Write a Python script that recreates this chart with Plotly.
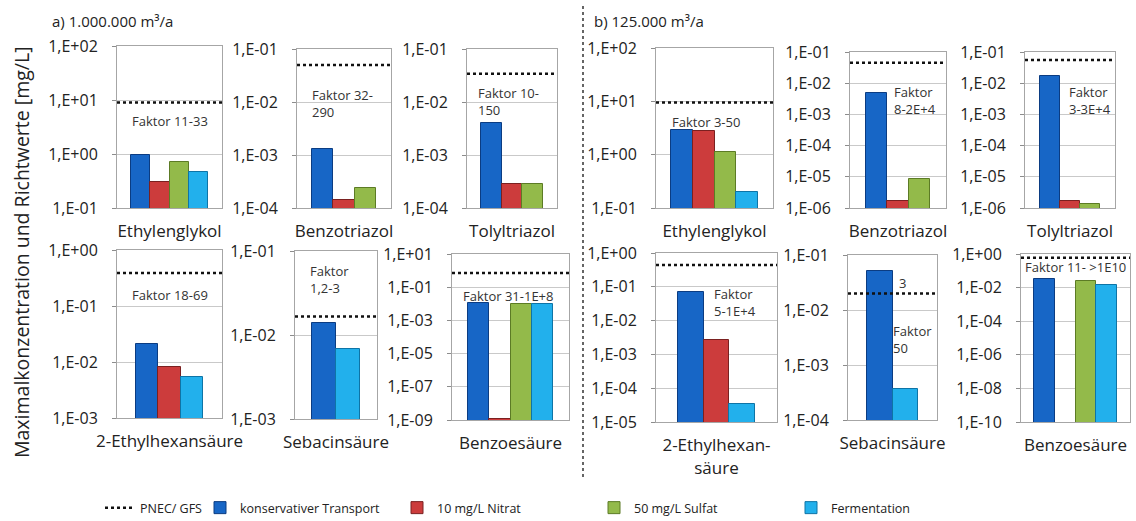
import plotly.graph_objects as go

W, H = 1136, 521

SERIES = ["konservativer Transport", "10 mg/L Nitrat", "50 mg/L Sulfat", "Fermentation"]
COLORS = ["#1766c6", "#cc3c3c", "#93ba4a", "#22b0ec"]
EDGES = ["#0b3c82", "#7a2020", "#5c7b25", "#0e74a6"]

# scenario a) 1.000.000 m3/a and b) 125.000 m3/a, one row per compound, columns follow SERIES
A_LABELS = ["Ethylenglykol", "Benzotriazol", "Tolyltriazol", "2-Ethylhexansäure", "Sebacinsäure", "Benzoesäure"]
B_LABELS = ["Ethylenglykol", "Benzotriazol", "Tolyltriazol", "2-Ethylhexan-<br>säure", "Sebacinsäure", "Benzoesäure"]

A_VALUES = [
    [0.95, 0.30, 0.71, 0.46],
    [1.3e-3, 1.4e-4, 2.4e-4, None],
    [4.0e-3, 2.8e-4, 2.8e-4, None],
    [2.1e-2, 8.0e-3, None, 5.5e-3],
    [1.4e-2, None, None, 6.8e-3],
    [1.1e-2, 1.2e-9, 1.0e-2, 1.0e-2],
]
B_VALUES = [
    [2.9, 2.8, 1.1, 0.2],
    [4.9e-3, 1.7e-6, 8.5e-6, None],
    [1.7e-2, 1.7e-6, 1.35e-6, None],
    [7.1e-2, 2.7e-3, None, 3.4e-5],
    [5.1e-2, None, None, 3.7e-4],
    [3.2e-2, 0, 2.5e-2, 1.4e-2],  # Nitrat 0: not detectable, slot stays empty
]
A_PNEC = [9.0, 0.05, 0.034, 0.39, 0.0166, 0.72]
B_PNEC = [9.5, 0.045, 0.055, 0.44, 0.02, 0.6]

A_FAKTOR = ["Faktor 11-33", "Faktor 32-<br>290", "Faktor 10-<br>150",
            "Faktor 18-69", "Faktor<br>1,2-3", "Faktor 31-1E+8"]
B_FAKTOR = ["Faktor 3-50", "Faktor<br>8-2E+4", "Faktor<br>3-3E+4",
            "Faktor<br>5-1E+4", "Faktor<br>50", "Faktor 11- >1E10"]

# log axis decades (low, high, step)
A_DECADES = [(-1, 2, 1), (-4, -1, 1), (-4, -1, 1), (-3, 0, 1), (-3, -1, 1), (-9, 1, 2)]
B_DECADES = [(-1, 2, 1), (-6, -1, 1), (-6, -1, 1), (-5, 0, 1), (-4, -1, 1), (-10, 0, 2)]

# layout: plot boxes in pixels (left, right, top, bottom), half width of x range
BOXES = [
    (117, 222, 46, 208), (297, 391, 49, 208), (467, 557, 49, 208),
    (117, 222, 250, 418), (295, 377, 251, 419), (452, 569, 254, 420),
    (656, 773, 48, 208), (850, 946, 52, 208), (1025, 1115, 52, 208),
    (656, 777, 253, 422), (848, 937, 255, 420), (1021, 1130, 254, 422),
]
XHALF = [0.675, 0.745, 0.735, 0.78, 0.85, 0.69, 0.665, 0.76, 0.76, 0.78, 0.87, 0.65]
# annotation anchor in domain coords (x, y, xanchor)
NOTE_POS = [
    (0.5, 0.54, "center"), (0.14, 0.66, "left"), (0.10, 0.67, "left"),
    (0.5, 0.73, "center"), (0.16, 0.83, "left"), (0.48, 0.75, "center"),
    (0.43, 0.54, "center"), (0.44, 0.69, "left"), (0.47, 0.69, "left"),
    (0.46, 0.71, "left"), (0.48, 0.49, "left"), (0.5, 0.92, "center"),
]

FONT = "'Open Sans', Lato, sans-serif"

labels = A_LABELS + B_LABELS
values = A_VALUES + B_VALUES
pnec = A_PNEC + B_PNEC
notes = A_FAKTOR + B_FAKTOR
decades = A_DECADES + B_DECADES

fig = go.Figure()
layout = {}
shapes = []
annotations = []
seen = set()

for i in range(12):
    n = i + 1
    suffix = "" if n == 1 else str(n)
    xa, ya = "x" + suffix, "y" + suffix
    left, right, top, bottom = BOXES[i]
    for s, v in enumerate(values[i]):
        if v is None:
            continue
        fig.add_trace(go.Bar(
            x=[labels[i]], y=[v], name=SERIES[s],
            xaxis=xa, yaxis=ya,
            marker=dict(color=COLORS[s], line=dict(color=EDGES[s], width=1)),
            legendgroup=SERIES[s], showlegend=s not in seen, legend="legend",
            hovertemplate="%{y:.2e}<extra>" + SERIES[s] + "</extra>",
        ))
        seen.add(s)

    lo, hi, step = decades[i]
    exps = list(range(lo, hi + 1, step))
    ticks = [10.0 ** e for e in exps]
    layout["xaxis" + suffix] = dict(
        domain=[left / W, right / W], anchor=ya, type="category",
        range=[-XHALF[i], XHALF[i]], showgrid=False, automargin=False,
        showline=True, mirror=True, linecolor="#a6a6a6", linewidth=1,
        ticks="", tickfont=dict(size=17, color="#222", family=FONT),
        ticklabelstandoff=8,
    )
    # long invisible major ticks push the labels out, short minor ticks are the visible marks
    layout["yaxis" + suffix] = dict(
        domain=[1 - bottom / H, 1 - top / H], anchor=xa, type="log",
        range=[lo, hi], tickvals=ticks,
        ticktext=[f"1,E{e:+03d}" for e in exps], automargin=False,
        showgrid=True, gridcolor="#c9c9c9", gridwidth=1,
        showline=True, mirror=True, linecolor="#a6a6a6", linewidth=1,
        ticks="outside", ticklen=15, tickcolor="rgba(0,0,0,0)",
        minor=dict(tickvals=ticks, ticks="outside", ticklen=4, tickcolor="#8c8c8c", showgrid=False),
        tickfont=dict(size=16, color="#222", family=FONT),
        zeroline=False,
    )
    shapes.append(dict(
        type="line", xref=f"{xa} domain", yref=ya, x0=0, x1=1,
        y0=pnec[i], y1=pnec[i], line=dict(color="#111", width=2.5, dash="dot"),
        name="PNEC/ GFS", showlegend=(i == 0), legend="legend2",
    ))
    nx, ny, anchor = NOTE_POS[i]
    annotations.append(dict(
        text=notes[i], xref=f"{xa} domain", yref=f"{ya} domain", x=nx, y=ny,
        xanchor=anchor, yanchor="middle", align="left", showarrow=False,
        font=dict(size=13, color="#333", family=FONT),
    ))

# extra factor label on Sebacinsäure b)
annotations.append(dict(
    text="3", xref="x11 domain", yref="y11 domain", x=0.67, y=0.9,
    showarrow=False, font=dict(size=13, color="#333", family=FONT),
))
annotations += [
    dict(text="a) 1.000.000 m³/a", xref="paper", yref="paper", x=50 / W, y=1 - 21 / H,
         xanchor="left", yanchor="middle", showarrow=False,
         font=dict(size=15, color="#222", family=FONT)),
    dict(text="b) 125.000 m³/a", xref="paper", yref="paper", x=592 / W, y=1 - 21 / H,
         xanchor="left", yanchor="middle", showarrow=False,
         font=dict(size=15, color="#222", family=FONT)),
    dict(text="Maximalkonzentration und Richtwerte [mg/L]", xref="paper", yref="paper",
         x=21 / W, y=1 - 252 / H, textangle=-90, showarrow=False,
         xanchor="center", yanchor="middle",
         font=dict(size=19.5, color="#222", family=FONT)),
]
shapes.append(dict(
    type="line", xref="paper", yref="paper", x0=583 / W, x1=583 / W,
    y0=1 - 6 / H, y1=1 - 478 / H, line=dict(color="#333", width=1.5, dash="3px,3px"),
))

fig.update_layout(
    **layout,
    shapes=shapes,
    annotations=annotations,
    barmode="group", bargap=0, bargroupgap=0,
    width=W, height=H, autosize=False,
    margin=dict(l=0, r=0, t=0, b=0, autoexpand=False),
    paper_bgcolor="white", plot_bgcolor="white",
    font=dict(family=FONT, color="#222"),
    legend=dict(orientation="h", x=200 / W, y=1 - 508 / H, xanchor="left", yanchor="middle",
                entrywidth=152, font=dict(size=12.5, family=FONT), traceorder="normal",
                bgcolor="rgba(0,0,0,0)"),
    legend2=dict(orientation="h", x=100 / W, y=1 - 508 / H, xanchor="left", yanchor="middle",
                 font=dict(size=12.5, family=FONT), bgcolor="rgba(0,0,0,0)"),
)

# the page's default body margin would shift the figure by 8 px
fig.write_html("out.html", config={"displayModeBar": False},
               post_script="document.body.style.margin = '0';")
